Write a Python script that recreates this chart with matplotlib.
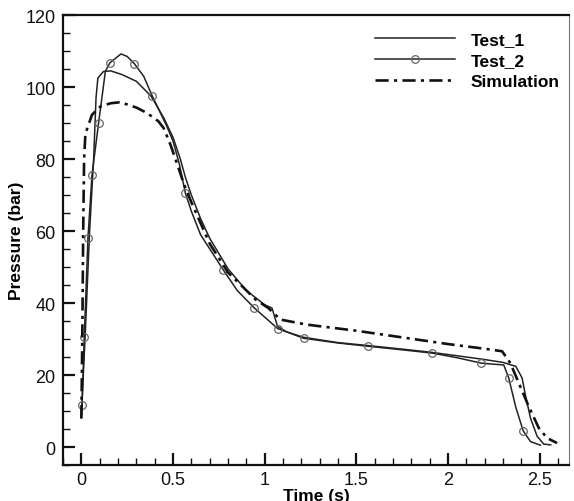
import matplotlib
matplotlib.use("Agg")
import matplotlib.pyplot as plt
from matplotlib.ticker import MultipleLocator

plt.rcParams['font.family'] = ['Liberation Sans', 'DejaVu Sans']

# Test_1 (solid line)
t1_time = [0.0, 0.02, 0.045, 0.067, 0.08, 0.09, 0.12, 0.16, 0.22, 0.30, 0.38, 0.45,
           0.50, 0.54, 0.567, 0.60, 0.65, 0.70, 0.80, 0.90, 1.00, 1.04, 1.07, 1.12,
           1.21, 1.40, 1.56, 1.75, 1.91, 2.10, 2.20, 2.30, 2.37, 2.404, 2.422, 2.45,
           2.486, 2.522, 2.56]
t1_pres = [9.0, 30.0, 60.0, 80.0, 97.0, 102.5, 104.3, 104.5, 103.5, 101.6, 97.5, 91.4,
           86.0, 80.0, 75.0, 70.0, 63.5, 58.0, 49.5, 43.5, 39.5, 38.6, 33.5, 32.0,
           30.5, 29.0, 28.2, 27.2, 26.3, 25.0, 24.3, 23.5, 22.4, 19.2, 14.5, 8.0,
           3.0, 0.8, 0.6]

# Test_2 (solid line with circle markers)
t2_time = [0.0, 0.004, 0.016, 0.036, 0.058, 0.094, 0.131, 0.155, 0.216, 0.25, 0.289,
           0.34, 0.386, 0.42, 0.467, 0.50, 0.535, 0.567, 0.60, 0.65, 0.773, 0.85,
           0.944, 1.071, 1.213, 1.40, 1.562, 1.75, 1.913, 2.05, 2.182, 2.25, 2.304,
           2.331, 2.37, 2.41, 2.45, 2.504]
t2_pres = [8.0, 11.6, 30.7, 58.0, 75.6, 90.0, 104.4, 106.7, 109.2, 108.5, 106.5,
           103.0, 97.6, 94.0, 89.0, 85.0, 78.5, 70.6, 65.5, 59.0, 49.3, 43.5,
           38.6, 32.9, 30.2, 28.9, 28.0, 27.0, 26.1, 24.8, 23.3, 23.0, 22.8,
           19.2, 11.0, 4.5, 1.5, 0.5]
t2_marks = [1, 2, 3, 4, 5, 7, 10, 12, 17, 20, 22, 23, 24, 26, 28, 30, 33, 35]

# Simulation (dash-dot)
sim_time = [0.0, 0.005, 0.01, 0.015, 0.022, 0.058, 0.104, 0.16, 0.213, 0.30, 0.358,
            0.42, 0.449, 0.486, 0.52, 0.56, 0.60, 0.70, 0.80, 0.87, 0.95, 1.02,
            1.086, 1.23, 1.50, 2.00, 2.20, 2.295, 2.34, 2.386, 2.44, 2.495, 2.54,
            2.595]
sim_pres = [8.0, 30.0, 60.0, 80.0, 87.0, 92.3, 94.6, 95.5, 95.8, 94.3, 92.8,
            90.5, 88.6, 84.0, 79.0, 73.0, 68.0, 56.5, 48.5, 45.0, 41.0, 38.6,
            35.4, 34.0, 32.3, 28.6, 27.3, 26.6, 23.3, 17.8, 11.3, 5.3, 2.5,
            1.1]

fig = plt.figure(figsize=(5.74, 5.02), dpi=100)
ax = fig.add_axes([0.1098, 0.0717, 0.8815, 0.8963])

ax.plot(t1_time, t1_pres, color='#222222', lw=1.1, label='Test_1')
ax.plot(t2_time, t2_pres, color='#222222', lw=1.1, marker='o', markevery=t2_marks,
        markersize=5.5, markerfacecolor='none', markeredgecolor='#666666',
        markeredgewidth=0.9, label='Test_2')
ax.plot(sim_time, sim_pres, color='#111111', lw=1.9, dashes=(5, 2, 1.2, 2),
        label='Simulation')

ax.set_xlim(-0.1, 2.66)
ax.set_ylim(-5, 120)
ax.xaxis.set_minor_locator(MultipleLocator(0.1))
ax.yaxis.set_major_locator(MultipleLocator(20))
ax.yaxis.set_minor_locator(MultipleLocator(5))
ax.set_xticks([0, 0.5, 1, 1.5, 2, 2.5])
ax.set_xticklabels(['0', '0.5', '1', '1.5', '2', '2.5'])

ax.tick_params(which='major', direction='in', length=8.5, width=1.6,
               labelsize=13, pad=5.5, colors='#111111')
ax.tick_params(which='minor', direction='in', length=5, width=1.0, colors='#111111')
ax.tick_params(axis='x', which='major', pad=4.5)

for side in ['left', 'bottom', 'top']:
    ax.spines[side].set_linewidth(1.6)
    ax.spines[side].set_color('#111111')
ax.spines['right'].set_linewidth(0.8)
ax.spines['right'].set_color('#777777')

ax.set_xlabel('Time (s)', fontsize=12.5, fontweight='bold', labelpad=0)
ax.set_ylabel('Pressure (bar)', fontsize=12.5, fontweight='bold', labelpad=1)

ax.legend(loc='upper right', frameon=False, handlelength=4.6, numpoints=1,
          prop={'weight': 'bold', 'size': 12.5}, labelspacing=0.33,
          handletextpad=0.9, borderaxespad=0, borderpad=0,
          bbox_to_anchor=(0.982, 0.962))

fig.savefig('out.png', dpi=100)
